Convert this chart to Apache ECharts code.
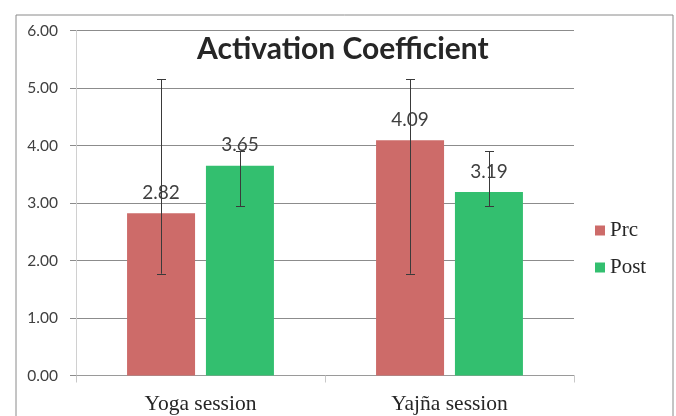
<!DOCTYPE html>
<html>
<head>
<meta charset="utf-8">
<script src="https://cdn.jsdelivr.net/npm/echarts@6/dist/echarts.min.js"></script>
<style>html,body{margin:0;padding:0;background:#fff;}#c{width:676px;height:416px;}</style>
</head>
<body>
<div id="c"></div>
<script>
const categories = ['Yoga session', 'Yajña session'];
const seriesNames = ['Prc', 'Post'];
const preValues = [2.82, 4.09];
const postValues = [3.65, 3.19];
const preErrLow = [1.77, 1.77];
const preErrHigh = [5.15, 5.15];
const postErrLow = [2.94, 2.94];
const postErrHigh = [3.90, 3.90];
const yTicks = [0, 1, 2, 3, 4, 5, 6];

const BAR_W = 68;
const GAP = 0.16;
const preColor = '#CD6B69';
const postColor = '#33BF6F';

const chart = echarts.init(document.getElementById('c'), null, {renderer: 'canvas'});

function errSeries(lows, highs, sign) {
  return {
    type: 'custom',
    z: 5,
    silent: true,
    data: lows.map((l, i) => [i, l, highs[i]]),
    renderItem: function (params, api) {
      const off = sign * BAR_W * (1 + GAP) / 2;
      const lo = api.coord([api.value(0), api.value(1)]);
      const hi = api.coord([api.value(0), api.value(2)]);
      const x = Math.round(lo[0] + off) + 0.5;
      const cap = 4.5;
      const st = {stroke: '#3a3a3a', lineWidth: 1};
      return {
        type: 'group',
        children: [
          {type: 'line', shape: {x1: x, y1: hi[1], x2: x, y2: lo[1]}, style: st},
          {type: 'line', shape: {x1: x - cap, y1: Math.round(hi[1]) + 0.5, x2: x + cap, y2: Math.round(hi[1]) + 0.5}, style: st},
          {type: 'line', shape: {x1: x - cap, y1: Math.round(lo[1]) + 0.5, x2: x + cap, y2: Math.round(lo[1]) + 0.5}, style: st}
        ]
      };
    }
  };
}

const labelStyle = {
  show: true, position: 'top', distance: 11,
  fontFamily: 'Lato', fontSize: 19, color: '#404040',
  formatter: p => p.value.toFixed(2)
};

chart.setOption({
  animation: false,
  backgroundColor: '#ffffff',
  graphic: [{
    type: 'rect', left: 13.5, top: 12.5, silent: true,
    shape: {width: 657, height: 440},
    style: {fill: 'none', stroke: '#8a8a8a', lineWidth: 1}
  }],
  title: {
    text: 'Activation Coefficient',
    left: 192, top: 29,
    textStyle: {fontFamily: 'Lato', fontWeight: 'bold', fontSize: 30, color: '#262626'}
  },
  legend: {
    orient: 'vertical', left: 590, top: 215,
    itemWidth: 10, itemHeight: 10, itemGap: 16,
    icon: 'rect',
    data: seriesNames,
    textStyle: {fontFamily: 'Liberation Serif', fontSize: 21, color: '#262626'}
  },
  grid: {left: 76, right: 102, top: 30.5, bottom: 40.5, containLabel: false},
  xAxis: {
    type: 'category',
    data: categories,
    axisLine: {lineStyle: {color: '#9a9a9a'}},
    axisTick: {show: true, length: 7, lineStyle: {color: '#c8c8c8'}},
    axisLabel: {fontFamily: 'Liberation Serif', fontSize: 21.5, color: '#262626', margin: 18}
  },
  yAxis: {
    type: 'value', min: yTicks[0], max: yTicks[yTicks.length - 1], interval: 1,
    axisLine: {show: true, lineStyle: {color: '#d0d0d0'}},
    axisTick: {show: true, length: 6, lineStyle: {color: '#8c8c8c'}},
    splitLine: {lineStyle: {color: '#8c8c8c'}},
    axisLabel: {fontFamily: 'Lato', fontSize: 15.5, color: '#404040', margin: 18, formatter: v => v.toFixed(2)}
  },
  series: [
    {name: seriesNames[0], type: 'bar', data: preValues, barWidth: BAR_W, barGap: (GAP * 100) + '%',
     itemStyle: {color: preColor}, label: labelStyle},
    {name: seriesNames[1], type: 'bar', data: postValues, barWidth: BAR_W,
     itemStyle: {color: postColor}, label: labelStyle},
    errSeries(preErrLow, preErrHigh, -1),
    errSeries(postErrLow, postErrHigh, 1)
  ]
});
</script>
</body>
</html>
